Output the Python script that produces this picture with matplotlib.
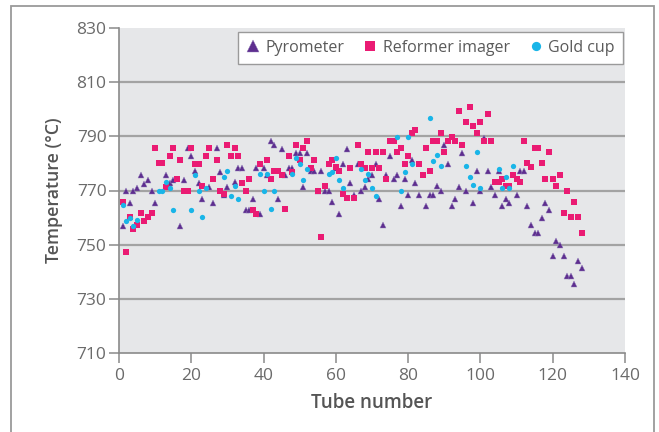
import matplotlib
matplotlib.use("Agg")
import matplotlib.pyplot as plt
from matplotlib.patches import Rectangle

# ---------------- data ----------------
pyro_tube = [1, 2, 3, 4, 5, 6, 7, 8, 9, 10, 13, 14, 15, 17, 18, 19, 20, 21, 22, 23,
             25, 26, 27, 28, 29, 30, 32, 33, 34, 35, 36, 37, 38, 39, 40, 41, 42, 43, 44, 45,
             46, 47, 48, 49, 50, 51, 52, 53, 54, 55, 56, 57, 58, 59, 60, 61, 62, 63, 64, 65,
             66, 67, 68, 69, 70, 71, 72, 73, 74, 75, 76, 77, 78, 79, 80, 81, 82, 83, 85, 86,
             87, 88, 89, 90, 91, 92, 93, 94, 95, 96, 98, 99, 100, 101, 102, 103, 104, 105, 106, 107,
             108, 110, 111, 112, 113, 114, 115, 116, 117, 118, 119, 120, 121, 122, 123, 124, 125, 126, 127, 128]
pyro_temp = [757, 770, 765.5, 770, 771, 775.6, 772.5, 774, 770, 765.5, 775.7, 772.6, 774, 757, 774, 785.6, 782.6, 777.3, 772.9, 767,
             771.3, 765.5, 785.6, 777, 768.5, 771.3, 773, 778.4, 778.4, 762.7, 762.7, 767, 778.4, 761.3, 778.4, 775.6, 788.2, 786.7, 767, 785.2,
             775.6, 778.4, 778.4, 784, 784, 771.3, 784, 777.1, 777.1, 770, 777.1, 770, 770, 765.8, 778.4, 761.4, 779.9, 785.4, 772.9, 768.5,
             779.9, 770, 771.3, 774.1, 775.6, 779.9, 767, 757.1, 775.6, 782.6, 774.1, 775.6, 764.3, 774.1, 768.5, 781.4, 772.8, 768.5, 764.3, 768.5,
             768.5, 771.5, 770, 786.7, 779.9, 764.3, 767, 771.3, 784, 769.8, 765.5, 777.1, 769.8, 789.5, 777.1, 771.3, 768.5, 777.1, 764.3, 767,
             765.5, 768.5, 777.1, 777.1, 764.3, 757.1, 754.4, 754.4, 760, 765.5, 762.7, 745.7, 751.4, 750, 745.7, 738.3, 738.3, 735.4, 744, 741.4]

imager_tube = [1, 2, 3, 4, 5, 6, 7, 8, 9, 10, 11, 12, 13, 14, 15, 16, 17, 18, 19, 20,
               21, 22, 23, 24, 25, 26, 27, 28, 29, 30, 31, 32, 33, 34, 35, 36, 37, 38, 39, 41,
               42, 43, 44, 45, 46, 47, 48, 49, 50, 51, 52, 53, 54, 55, 56, 57, 58, 59, 60, 61,
               62, 63, 64, 65, 66, 67, 68, 69, 70, 71, 72, 73, 74, 75, 76, 77, 78, 79, 80, 81,
               82, 83, 84, 85, 86, 87, 88, 89, 90, 91, 92, 93, 94, 95, 96, 97, 98, 99, 100, 101,
               102, 103, 104, 105, 106, 107, 108, 109, 110, 111, 112, 113, 114, 115, 116, 117, 118, 119, 120, 121,
               122, 123, 124, 125, 126, 127, 128]
imager_temp = [765.8, 747.3, 760.2, 755.7, 757.4, 761.7, 758.7, 760.2, 761.7, 785.7, 780.2, 780.2, 771.3, 782.6, 785.7, 774.2, 781.3, 770, 770, 785.7,
               779.8, 779.8, 771.5, 782.6, 785.7, 774.2, 781.3, 770, 768.8, 786.8, 782.6, 785.7, 782.6, 772.8, 770, 774.2, 762.9, 761.2, 779.8, 781.3,
               774.2, 777.2, 777.2, 775.6, 763.2, 782.6, 776.8, 786.7, 781.1, 785.6, 788.2, 778.4, 781.1, 770, 752.8, 771.5, 779.9, 781.1, 778.7, 777.2,
               768.6, 767.1, 778.4, 767.1, 786.8, 779.9, 778.4, 784.1, 778.4, 784.1, 778.4, 784.1, 774.2, 788.3, 788.3, 784.1, 785.6, 779.9, 782.6, 791.2,
               792.2, 779.9, 775.6, 785.6, 777.2, 788.2, 788.2, 791.2, 784.2, 788.2, 789.8, 788.2, 799.4, 786.8, 795.3, 800.8, 793.8, 791.2, 795.3, 788.2,
               798.2, 788.2, 773.1, 773.1, 774.2, 771.7, 771.7, 775.7, 774.2, 773.1, 788.2, 780.2, 778.7, 785.7, 785.7, 780.2, 774.2, 784.1, 774.2, 771.5,
               775.6, 761.7, 770, 760.2, 765.8, 760.2, 754.3]

gold_tube = [1, 2, 3, 4, 5, 11, 12, 13, 14, 15, 20, 21, 22, 23, 24, 29, 30, 31, 32, 33,
             39, 40, 41, 42, 43, 48, 49, 50, 51, 52, 58, 59, 60, 61, 62, 67, 68, 69, 70, 71,
             77, 78, 79, 80, 81, 86, 87, 88, 89, 96, 97, 98, 99, 100, 105, 106, 107, 108, 109]
gold_temp = [764.8, 758.7, 759.8, 757, 759, 769.8, 769.8, 773.1, 770.9, 762.9, 762.9, 775.7, 770, 760.1, 770.9, 774.9, 777.1, 768, 771.8, 767,
             776, 770, 776, 763.2, 770, 776, 781.9, 779.9, 774, 777.9, 776, 777, 781.9, 774, 771, 777.9, 774, 776, 771, 768.1,
             789.8, 770, 777, 789.8, 779.9, 796.9, 780.9, 783.1, 778.9, 779, 775, 771.9, 784.1, 771, 778.1, 771, 775, 771, 779]

x_ticks = [0, 20, 40, 60, 80, 100, 120, 140]
y_ticks = [710, 730, 750, 770, 790, 810, 830]
series_labels = ["Pyrometer", "Reformer imager", "Gold cup"]

# ---------------- style ----------------
plt.rcParams["font.family"] = ["Open Sans", "DejaVu Sans"]
TICK_C = "#6a6a6a"
LABEL_C = "#555555"
AX_C = "#8a8a8a"
PURPLE = "#5e2e8f"
PINK = "#ea1b73"
CYAN = "#19b5e8"

fig = plt.figure(figsize=(6.59, 4.32), dpi=100)
W, H = 659, 432
ax = fig.add_axes([119 / W, 1 - 353 / H, (625 - 119) / W, (353 - 28) / H])
ax.set_facecolor("#e6e7e9")

# figure border (open at bottom)
fig.patches.append(Rectangle((11 / W, -0.05), (654 - 11) / W, 1.05 - 6 / H,
                             transform=fig.transFigure, fill=False,
                             edgecolor="#9a9a9a", linewidth=1.3, zorder=0))

for yv in y_ticks[1:-1]:
    ax.axhline(yv, color="#a3a3a3", linewidth=1.6, zorder=1)

ax.plot(pyro_tube, pyro_temp, linestyle="none", marker="^", markersize=4.9,
        color=PURPLE, markeredgecolor="#8f79b8", markeredgewidth=0.3, label=series_labels[0], zorder=3)
ax.plot(imager_tube, imager_temp, linestyle="none", marker="s", markersize=4.1,
        color=PINK, markeredgewidth=0, label=series_labels[1], zorder=4)
ax.plot(gold_tube, gold_temp, linestyle="none", marker="o", markersize=3.8,
        color=CYAN, markeredgewidth=0, label=series_labels[2], zorder=5)

ax.set_xlim(0, 140)
ax.set_ylim(710, 830)
ax.set_xticks(x_ticks)
ax.set_yticks(y_ticks)

for s in ["top", "right"]:
    ax.spines[s].set_visible(False)
for s in ["left", "bottom"]:
    ax.spines[s].set_color(AX_C)
    ax.spines[s].set_linewidth(1.2)

ax.tick_params(axis="both", colors=AX_C, labelcolor=TICK_C, labelsize=12.5,
               length=7, width=1.1, direction="out")
ax.tick_params(axis="y", pad=2)
ax.tick_params(axis="x", pad=4)

ax.set_xlabel("Tube number", fontsize=13.5, fontweight="semibold", color=LABEL_C, labelpad=6)
ax.set_ylabel("Temperature (\u00b0C)", fontsize=12.8, fontweight="semibold", color=LABEL_C, labelpad=10)

leg = ax.legend(loc="upper right", bbox_to_anchor=(0.996, 0.988), ncol=3,
                frameon=True, fancybox=False, framealpha=1, edgecolor="#9a9a9a",
                fontsize=11.5, markerscale=1.75, handlelength=0.9, handletextpad=0.35,
                columnspacing=1.15, borderpad=0.5, borderaxespad=0)
leg.get_frame().set_linewidth(1.0)
for t in leg.get_texts():
    t.set_color("#5a5a5a")

fig.savefig("out.png", dpi=100)
